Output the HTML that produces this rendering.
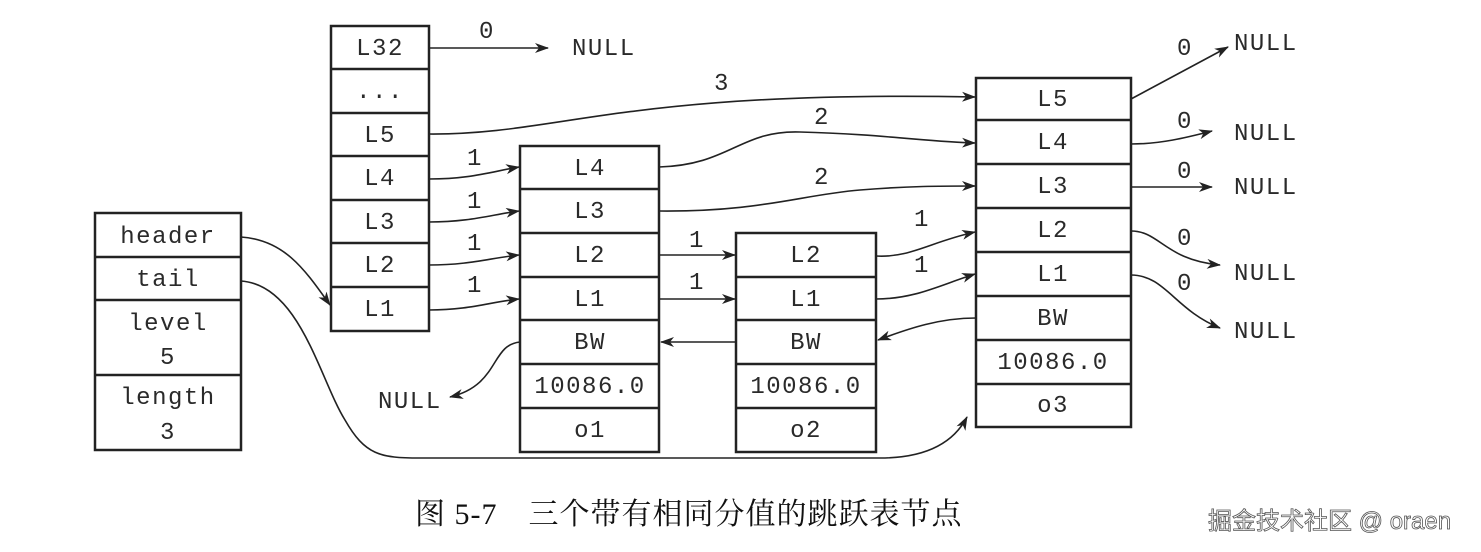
<!DOCTYPE html>
<html><head><meta charset="utf-8"><style>
html,body{margin:0;padding:0;background:#fff;width:1481px;height:552px;overflow:hidden}
svg text{font-family:"Liberation Mono",monospace;font-size:24px;letter-spacing:1.5px;fill:#2a2a2a}
</style></head><body>
<svg width="1481" height="552" viewBox="0 0 1481 552" xmlns="http://www.w3.org/2000/svg">
<defs><marker id="a" markerWidth="14" markerHeight="10" refX="13" refY="5" orient="auto" markerUnits="userSpaceOnUse"><path d="M0,0 L14,5 L0,10 L4,5 z" fill="#222"/></marker></defs>
<g fill="none" stroke="#222" stroke-width="2.5">
<rect x="95" y="213" width="146" height="237"/>
<line x1="95" y1="257" x2="241" y2="257"/><line x1="95" y1="300" x2="241" y2="300"/><line x1="95" y1="375" x2="241" y2="375"/>
<rect x="331" y="26" width="98" height="305"/>
<line x1="331" y1="69" x2="429" y2="69"/><line x1="331" y1="113" x2="429" y2="113"/><line x1="331" y1="156" x2="429" y2="156"/><line x1="331" y1="200" x2="429" y2="200"/><line x1="331" y1="243" x2="429" y2="243"/><line x1="331" y1="287" x2="429" y2="287"/>
<rect x="520" y="146" width="139" height="306"/>
<line x1="520" y1="189" x2="659" y2="189"/><line x1="520" y1="233" x2="659" y2="233"/><line x1="520" y1="277" x2="659" y2="277"/><line x1="520" y1="320" x2="659" y2="320"/><line x1="520" y1="364" x2="659" y2="364"/><line x1="520" y1="408" x2="659" y2="408"/>
<rect x="736" y="233" width="140" height="219"/>
<line x1="736" y1="277" x2="876" y2="277"/><line x1="736" y1="320" x2="876" y2="320"/><line x1="736" y1="364" x2="876" y2="364"/><line x1="736" y1="408" x2="876" y2="408"/>
<rect x="976" y="78" width="155" height="349"/>
<line x1="976" y1="120" x2="1131" y2="120"/><line x1="976" y1="164" x2="1131" y2="164"/><line x1="976" y1="208" x2="1131" y2="208"/><line x1="976" y1="252" x2="1131" y2="252"/><line x1="976" y1="296" x2="1131" y2="296"/><line x1="976" y1="340" x2="1131" y2="340"/><line x1="976" y1="384" x2="1131" y2="384"/>
</g>
<g fill="none" stroke="#222" stroke-width="1.6" marker-end="url(#a)">
<path d="M241,237 C285,240 305,270 330,305"/>
<path d="M241,281 C300,285 320,380 345,420 C365,455 380,458 420,458 L880,458 C930,458 955,440 967,417"/>
<path d="M429,48 L548,48"/>
<path d="M429,134 C560,135 620,90 975,97"/>
<path d="M429,179 C470,179 490,172 519,167"/>
<path d="M429,222 C470,222 490,215 519,211"/>
<path d="M429,265 C470,265 490,258 519,255"/>
<path d="M429,310 C470,310 490,302 519,299"/>
<path d="M659,167 C730,165 740,130 800,132 C880,134 930,142 975,143"/>
<path d="M659,211 C760,212 800,195 860,190 C910,186 940,186 975,186"/>
<path d="M659,255 L735,255"/>
<path d="M659,299 L735,299"/>
<path d="M876,256 C910,258 930,242 975,232"/>
<path d="M876,299 C915,299 940,285 975,274"/>
<path d="M976,318 C940,318 910,328 878,340"/>
<path d="M736,342 L661,342"/>
<path d="M520,342 C490,345 500,385 450,397"/>
<path d="M1131,99 L1228,47"/>
<path d="M1131,144 C1160,144 1185,138 1212,131"/>
<path d="M1131,187 L1212,187"/>
<path d="M1131,231 C1160,231 1165,260 1220,265"/>
<path d="M1131,275 C1165,275 1175,310 1220,328"/>
</g>
<g text-anchor="middle">
<text x="168" y="243">header</text><text x="168" y="286">tail</text><text x="168" y="330">level</text><text x="168" y="364">5</text><text x="168" y="404">length</text><text x="168" y="439">3</text>
<text x="380" y="55">L32</text><text x="380" y="98">...</text><text x="380" y="142">L5</text><text x="380" y="185">L4</text><text x="380" y="229">L3</text><text x="380" y="272">L2</text><text x="380" y="316">L1</text>
<text x="590" y="175">L4</text><text x="590" y="218">L3</text><text x="590" y="262">L2</text><text x="590" y="306">L1</text><text x="590" y="349">BW</text><text x="590" y="393">10086.0</text><text x="590" y="437">o1</text>
<text x="806" y="262">L2</text><text x="806" y="306">L1</text><text x="806" y="349">BW</text><text x="806" y="393">10086.0</text><text x="806" y="437">o2</text>
<text x="1053" y="106">L5</text><text x="1053" y="149">L4</text><text x="1053" y="193">L3</text><text x="1053" y="237">L2</text><text x="1053" y="281">L1</text><text x="1053" y="325">BW</text><text x="1053" y="369">10086.0</text><text x="1053" y="412">o3</text>
<text x="487" y="38">0</text><text x="722" y="90">3</text><text x="822" y="124">2</text><text x="822" y="184">2</text>
<text x="475" y="165">1</text><text x="475" y="208">1</text><text x="475" y="250">1</text><text x="475" y="292">1</text>
<text x="697" y="247">1</text><text x="697" y="289">1</text><text x="922" y="226">1</text><text x="922" y="272">1</text>
<text x="1185" y="55">0</text><text x="1185" y="128">0</text><text x="1185" y="178">0</text><text x="1185" y="245">0</text><text x="1185" y="290">0</text>
</g>
<g>
<text x="572" y="55">NULL</text><text x="1234" y="50">NULL</text><text x="1234" y="140">NULL</text><text x="1234" y="194">NULL</text><text x="1234" y="280">NULL</text><text x="1234" y="338">NULL</text><text x="378" y="408">NULL</text>
</g>
<text x="415" y="524" style="font-family:'Liberation Serif','Noto Serif CJK SC',serif;font-size:30px;letter-spacing:1px;fill:#111">图 5-7　三个带有相同分值的跳跃表节点</text>
<text x="1208" y="529" style="font-family:'Liberation Sans','Noto Sans CJK SC',sans-serif;font-size:24px;letter-spacing:0;fill:#fff;stroke:#555;stroke-width:0.8">掘金技术社区 @ oraen</text>
</svg>
</body></html>
